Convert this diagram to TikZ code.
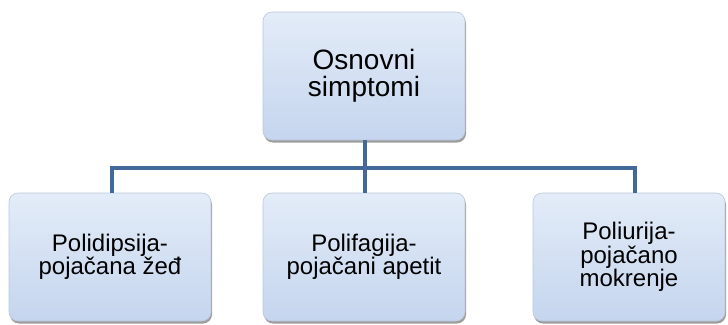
\documentclass[tikz,border=0pt]{standalone}
\usepackage{fontspec}
\setmainfont{Liberation Sans}
\usepackage{tikz}
\usetikzlibrary{positioning}
\usetikzlibrary{shadows}
\usepackage{xcolor}

\definecolor{boxtop}{HTML}{E3ECF8}
\definecolor{boxbot}{HTML}{C5D5EE}
\definecolor{boxline}{HTML}{BAC7D9}
\definecolor{linkblue}{HTML}{43699B}

\tikzset{
  symbox/.style={draw=boxline, line width=0.6pt, rounded corners=9pt,
    top color=boxtop, bottom color=boxbot, minimum height=128pt,
    align=center, inner sep=0pt, font=\fontsize{24}{22}\selectfont,
    drop shadow={shadow xshift=1pt, shadow yshift=-2.5pt, opacity=0.7, fill=black!55}},
  link/.style={draw=linkblue, line width=4pt}
}

\begin{document}
\begin{tikzpicture}[x=1pt, y=-1pt]
\useasboundingbox (0,0) rectangle (728,324);

% Connectors
\coordinate (split) at (364,168);

% Top box
\node[symbox, minimum width=202pt, font=\fontsize{28}{27}\selectfont] (osnovni) at (364,76) {Osnovni\\simptomi};

% Symptoms
\node[symbox, minimum width=202pt] (polidipsija) at (110,257) {Polidipsija-\\pojačana žeđ};
\node[symbox, minimum width=202pt] (polifagija) at (364,257) {Polifagija-\\pojačani apetit};
\node[symbox, minimum width=192pt] (poliurija) at (629,257) {Poliurija-\\pojačano\\mokrenje};

\draw[link] ([xshift=1pt]osnovni.south) -- ([xshift=1pt]polifagija.north);
\draw[link] ([xshift=2pt]polidipsija.north) |- (split) -| ([xshift=6pt]poliurija.north);
\end{tikzpicture}
\end{document}
